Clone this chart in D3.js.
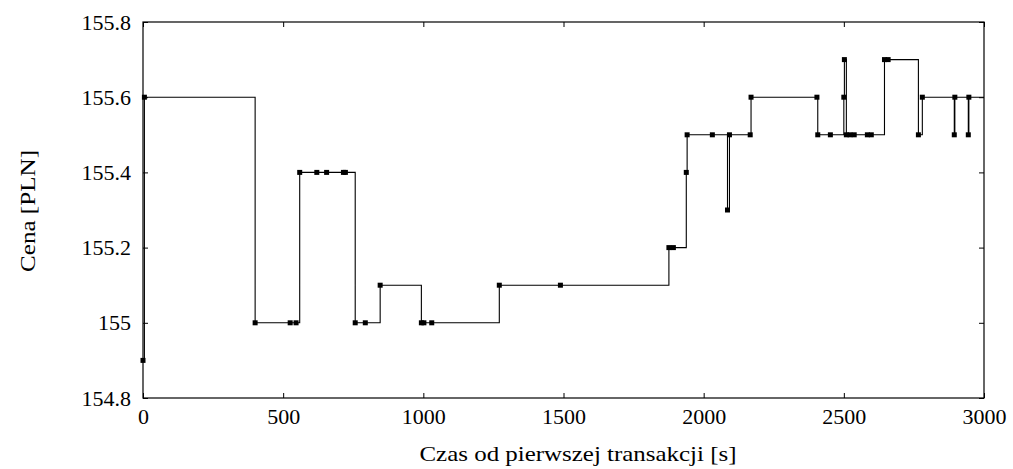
<!DOCTYPE html>
<html>
<head>
<meta charset="utf-8">
<script src="https://cdn.jsdelivr.net/npm/d3@7"></script>
<style>
  html, body { margin: 0; padding: 0; background: #fff; }
  text { font-family: "Liberation Serif", "Times New Roman", serif; fill: #000; }
</style>
</head>
<body>
<svg id="chart" width="1013" height="469"></svg>
<script>
// Transaction times [s]
const times = [0, 5, 400, 525, 546, 559, 620, 655, 715, 722, 757, 793, 846, 993, 1002, 1030,
  1271, 1489, 1876, 1892, 1938, 1941, 2031, 2085, 2092, 2166, 2169, 2404, 2407, 2452,
  2500, 2502, 2509, 2522, 2537, 2584, 2598, 2645, 2658, 2766, 2780, 2894, 2896, 2944, 2946, 3010];
// Prices [PLN]
const prices = [154.9, 155.6, 155.0, 155.0, 155.0, 155.4, 155.4, 155.4, 155.4, 155.4, 155.0, 155.0, 155.1, 155.0, 155.0, 155.0,
  155.1, 155.1, 155.2, 155.2, 155.4, 155.5, 155.5, 155.3, 155.5, 155.5, 155.6, 155.6, 155.5, 155.5,
  155.6, 155.7, 155.5, 155.5, 155.5, 155.5, 155.5, 155.7, 155.7, 155.5, 155.6, 155.5, 155.6, 155.5, 155.6, 155.6];
const xTicks = [0, 500, 1000, 1500, 2000, 2500, 3000];
const yTicks = [154.8, 155.0, 155.2, 155.4, 155.6, 155.8];
const xLabel = "Czas od pierwszej transakcji [s]";
const yLabel = "Cena [PLN]";

const data = times.map((t, i) => ({ t, p: prices[i] }));

const svg = d3.select("#chart");
const L = 143, R = 984, T = 22, B = 398;
const x = d3.scaleLinear().domain([0, 3000]).range([L, R]);
const y = d3.scaleLinear().domain([154.8, 155.8]).range([B, T]);

svg.append("defs").append("clipPath").attr("id", "clip")
  .append("rect").attr("x", L - 3).attr("y", T).attr("width", R - L + 3).attr("height", B - T);

const fmtY = d => (Math.abs(d - 155) < 1e-9 ? "155" : d.toFixed(1));
const tickLen = 5;

// axes (ticks inward)
const gB = svg.append("g").attr("transform", `translate(0,${B})`)
  .call(d3.axisBottom(x).tickValues(xTicks).tickSize(-tickLen).tickPadding(10).tickFormat(d3.format("d")));
const gT = svg.append("g").attr("transform", `translate(0,${T})`)
  .call(d3.axisTop(x).tickValues(xTicks).tickSize(-tickLen).tickFormat(""));
const gL = svg.append("g").attr("transform", `translate(${L},0)`)
  .call(d3.axisLeft(y).tickValues(yTicks).tickSize(-tickLen).tickPadding(12).tickFormat(fmtY));
const gR = svg.append("g").attr("transform", `translate(${R},0)`)
  .call(d3.axisRight(y).tickValues(yTicks).tickSize(-tickLen).tickFormat(""));

[gB, gT, gL, gR].forEach(g => {
  g.select(".domain").remove();
  g.selectAll(".tick line").attr("stroke", "#000").attr("stroke-width", 1);
  g.selectAll("text").attr("font-family", "Liberation Serif").attr("font-size", 22).attr("fill", "#000");
});
gB.selectAll(".tick text").attr("dy", "0.71em");

// frame
svg.append("rect").attr("x", L).attr("y", T).attr("width", R - L).attr("height", B - T)
  .attr("fill", "none").attr("stroke", "#000").attr("stroke-width", 1.2);

// data
const plot = svg.append("g").attr("clip-path", "url(#clip)");
const line = d3.line().x(d => x(d.t)).y(d => y(d.p)).curve(d3.curveStepAfter);
plot.append("path").datum(data).attr("d", line)
  .attr("fill", "none").attr("stroke", "#000").attr("stroke-width", 1.1);
const sq = 5;
plot.selectAll("rect.pt").data(data).join("rect").attr("class", "pt")
  .attr("x", d => x(d.t) - sq / 2).attr("y", d => y(d.p) - sq / 2)
  .attr("width", sq).attr("height", sq).attr("fill", "#000");

// labels
svg.append("text").attr("x", 578).attr("y", 461).attr("text-anchor", "middle")
  .attr("font-size", 22).attr("textLength", 317).attr("lengthAdjust", "spacingAndGlyphs").text(xLabel);
svg.append("text").attr("transform", `translate(35,211) rotate(-90)`)
  .attr("text-anchor", "middle").attr("font-size", 22)
  .attr("textLength", 122).attr("lengthAdjust", "spacingAndGlyphs").text(yLabel);
</script>
</body>
</html>
